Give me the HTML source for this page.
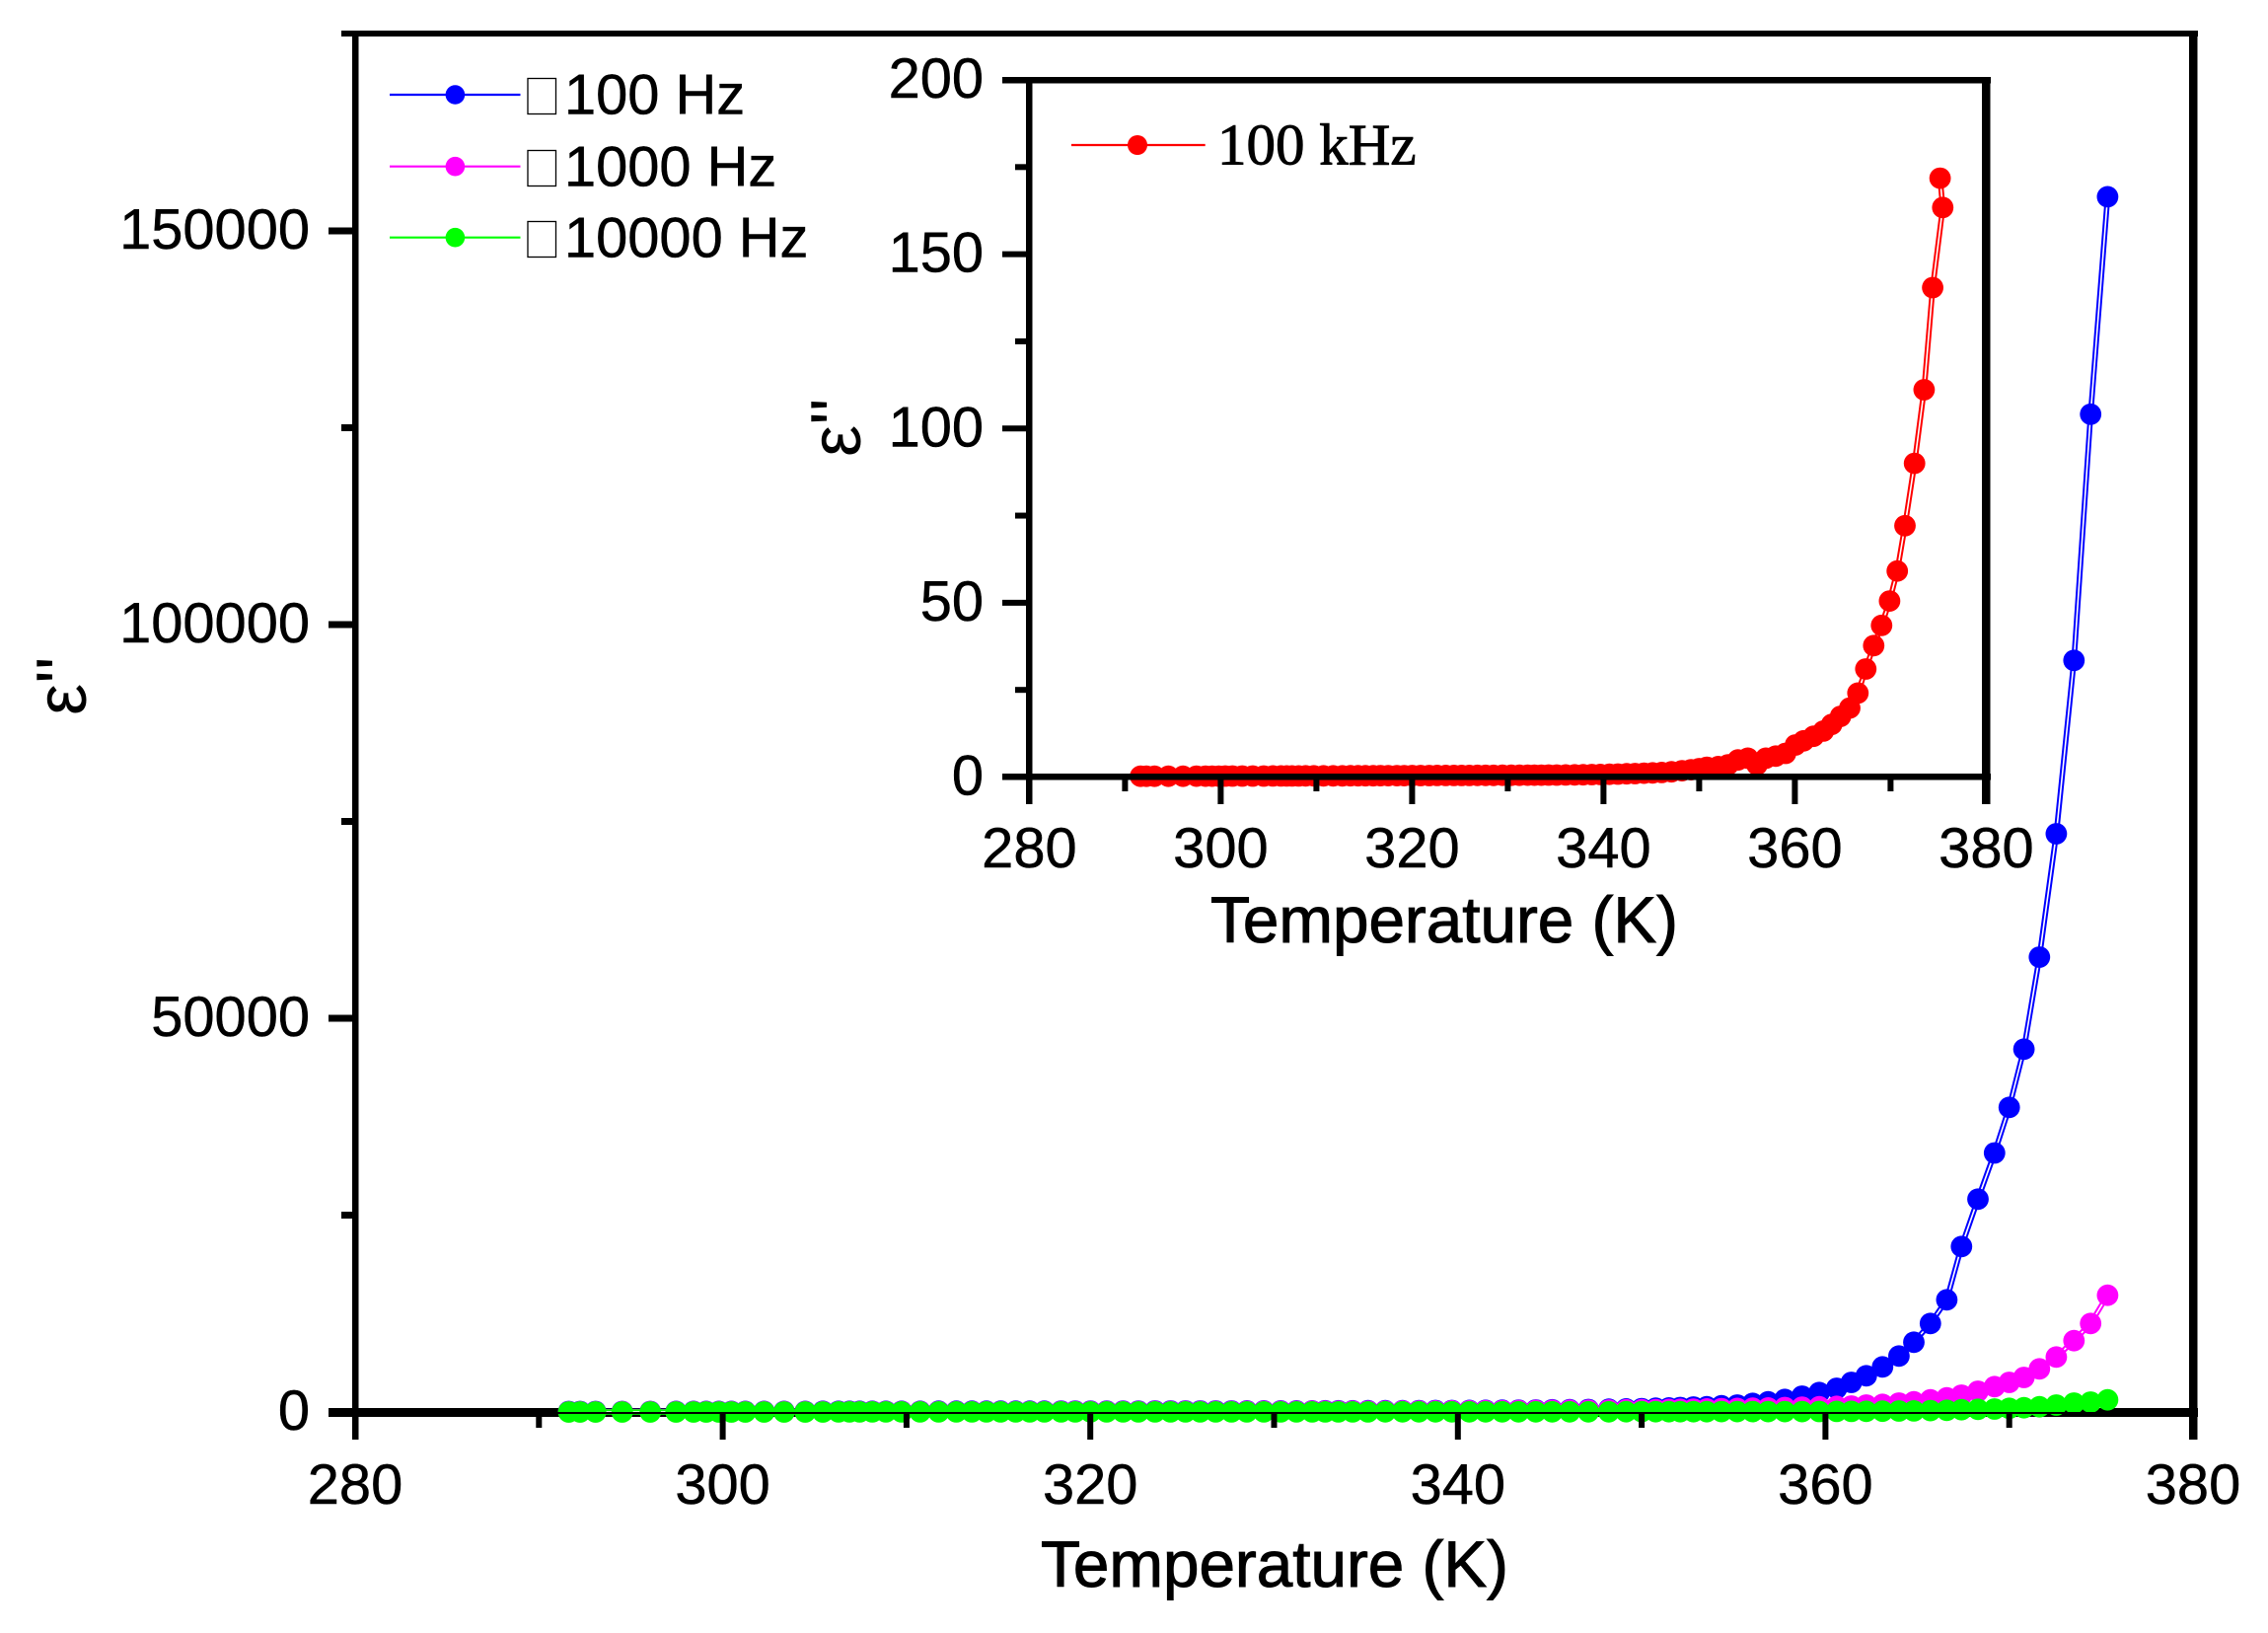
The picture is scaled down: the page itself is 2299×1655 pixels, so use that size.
<!DOCTYPE html>
<html lang="en">
<head>
<meta charset="utf-8">
<title>Dielectric loss vs temperature</title>
<style>
html,body{margin:0;padding:0;background:#fff;}
svg{display:block;}
text{font-family:"Liberation Sans",sans-serif;fill:#000;}
</style>
</head>
<body>
<svg id="chart" xmlns="http://www.w3.org/2000/svg" width="2299" height="1655" viewBox="0 0 2299 1655">
  <rect x="0" y="0" width="2299" height="1655" fill="#fff"/>
  <g id="main-under">
    <rect x="333" y="1427" width="1895" height="9" fill="#000"/>
    <rect x="346" y="31" width="1882" height="6" fill="#000"/>
    <rect x="357" y="31" width="6.5" height="1428" fill="#000"/>
    <rect x="2219" y="31" width="8.5" height="1428" fill="#000"/>
  </g>
  <g id="main-series"></g>
  <rect x="333" y="1431" width="1895" height="2" fill="#000"/>
  <g id="main-ticks"></g>
  <text x="1292" y="1608" font-size="65.6" text-anchor="middle" stroke="#000" stroke-width="1">Temperature (K)</text>
  <text transform="translate(87,725) rotate(-90)" font-size="72">ε''</text>

  <g>
    <line x1="395" y1="96" x2="527.5" y2="96" stroke="#0000ff" stroke-width="2.2"/>
    <circle cx="461.4" cy="96" r="9.8" fill="#0000ff"/>
    <rect x="535" y="79.5" width="28.5" height="36" fill="none" stroke="#000" stroke-width="1.3"/>
    <text x="572" y="115.7" font-size="57.8" stroke="#000" stroke-width="0.5">100 Hz</text>
    <line x1="395" y1="168.7" x2="527.5" y2="168.7" stroke="#ff00ff" stroke-width="2.2"/>
    <circle cx="461.4" cy="168.7" r="9.8" fill="#ff00ff"/>
    <rect x="535" y="152.5" width="28.5" height="36" fill="none" stroke="#000" stroke-width="1.3"/>
    <text x="572" y="188.3" font-size="57.8" stroke="#000" stroke-width="0.5">1000 Hz</text>
    <line x1="395" y1="240.7" x2="527.5" y2="240.7" stroke="#00ff00" stroke-width="2.2"/>
    <circle cx="461.4" cy="240.7" r="9.8" fill="#00ff00"/>
    <rect x="535" y="224.5" width="28.5" height="36" fill="none" stroke="#000" stroke-width="1.3"/>
    <text x="572" y="260.7" font-size="57.8" stroke="#000" stroke-width="0.5">10000 Hz</text>
  </g>

  <g id="inset-series"></g>
  <g id="inset-frame">
    <rect x="1016" y="784" width="1002" height="6.5" fill="#000"/>
    <rect x="1016" y="78" width="1002" height="6.5" fill="#000"/>
    <rect x="1040" y="78" width="6.5" height="737" fill="#000"/>
    <rect x="2009" y="78" width="8.5" height="737" fill="#000"/>
  </g>
  <g id="inset-ticks"></g>
  <text x="1464" y="955" font-size="65.6" text-anchor="middle" stroke="#000" stroke-width="1">Temperature (K)</text>
  <text transform="translate(872,463) rotate(-90)" font-size="72">ε''</text>
  <g>
    <line x1="1086" y1="147" x2="1221.7" y2="147" stroke="#ff0000" stroke-width="2.2"/>
    <circle cx="1153" cy="147" r="10" fill="#ff0000"/>
    <text x="1234" y="166.7" font-size="59" stroke="#000" stroke-width="0.9" style="font-family:'Liberation Serif',serif">100 kHz</text>
  </g>
</svg>
<script>
// Shared temperature readings (K)
const temperature = [
  291.62,292.24,293.08,294.53,296.06,297.46,298.41,299.10,299.79,300.47,
  301.23,302.25,303.34,304.49,305.45,306.30,306.90,307.45,308.14,308.88,
  309.73,310.74,311.75,312.71,313.56,314.35,315.12,315.94,316.71,317.50,
  318.41,319.18,320.01,320.89,321.78,322.62,323.52,324.37,325.18,325.98,
  326.82,327.68,328.52,329.44,330.36,331.22,332.07,332.78,333.50,334.27,
  335.11,336.05,336.99,337.88,338.78,339.67,340.62,341.51,342.41,343.30,
  344.24,345.13,346.08,347.10,348.21,349.15,350.00,350.76,351.48,352.10,
  352.82,353.54,354.34,355.20,356.04,356.88,357.79,358.73,359.66,360.61,
  361.41,362.22,363.11,364.00,364.81,365.71,366.60,367.40,368.30,369.20,
  370.00,370.80,371.64,372.56,373.52,374.43,375.35
];
const values100Hz = [
  60,62,65,66,68,70,72,72,74,75,
  76,78,80,80,82,84,85,86,88,90,
  90,92,94,95,97,98,100,102,104,105,
  107,110,112,114,116,118,120,122,124,126,
  128,130,133,136,138,140,143,146,150,154,
  158,162,168,175,182,190,198,208,220,235,
  250,270,290,315,345,385,430,470,520,570,
  627,664,789,877,1090,1291,1591,2005,2469,3008,
  3759,4599,5727,7105,8860,11241,14248,21015,27030,32895,
  38684,46078,57769,73434,95451,126717,154336
];
const values1000Hz = [
  30,30,31,32,33,34,35,35,36,37,
  38,38,39,40,41,42,42,43,44,45,
  46,47,48,49,50,51,52,54,55,56,
  58,60,62,63,65,67,69,71,73,75,
  78,80,83,86,89,92,95,99,103,108,
  113,118,124,130,137,145,153,162,172,183,
  195,210,225,240,255,272,290,305,320,340,
  360,390,420,450,480,520,560,610,664,714,
  752,877,965,1128,1291,1541,1792,2130,2632,3221,
  3759,4386,5476,6980,9060,11241,14825
];
const values10000Hz = [
  4,4,4,5,5,5,5,5,5,6,
  6,6,6,6,6,7,7,7,7,7,
  7,8,8,8,8,8,9,9,9,9,
  10,10,10,11,11,11,12,12,12,13,
  13,14,14,15,15,16,16,17,17,18,
  18,19,20,20,21,22,23,24,25,26,
  27,28,29,30,31,32,34,35,36,38,
  40,42,44,46,48,50,52,55,60,70,
  80,90,100,120,140,170,213,288,338,376,
  464,540,664,877,1128,1253,1541
];
// Inset (100 kHz)
const insetTemperature = [
  291.62,292.24,293.08,294.53,296.06,297.46,298.41,299.10,299.79,300.47,
  301.23,302.25,303.34,304.49,305.45,306.30,306.90,307.45,308.14,308.88,
  309.73,310.74,311.75,312.71,313.56,314.35,315.12,315.94,316.71,317.50,
  318.41,319.18,320.01,320.89,321.78,322.62,323.52,324.37,325.18,325.98,
  326.82,327.68,328.52,329.44,330.36,331.22,332.07,332.78,333.50,334.27,
  335.11,336.05,336.99,337.88,338.78,339.67,340.62,341.51,342.41,343.30,
  344.24,345.13,346.08,347.10,348.21,349.15,350.00,350.80,351.99,353.02,
  354.05,355.08,356.04,356.97,358.00,359.03,360.06,360.92,361.95,362.98,
  363.85,364.77,365.73,366.59,367.41,368.24,369.06,369.90,370.70,371.50,
  372.50,373.50,374.40,375.45,375.18
];
const values100kHz = [
  0.22,0.22,0.23,0.24,0.24,0.25,0.25,0.26,0.26,0.27,
  0.27,0.28,0.28,0.29,0.30,0.30,0.31,0.31,0.32,0.33,
  0.33,0.34,0.35,0.35,0.36,0.37,0.38,0.38,0.39,0.40,
  0.40,0.41,0.42,0.42,0.43,0.44,0.44,0.45,0.45,0.46,
  0.47,0.48,0.49,0.50,0.51,0.52,0.53,0.54,0.55,0.56,
  0.58,0.60,0.63,0.66,0.70,0.75,0.80,0.86,0.93,1.0,
  1.1,1.2,1.3,1.5,1.8,2.1,2.4,2.8,3.0,3.5,
  4.9,5.4,3.5,5.4,6.0,6.8,9.2,10.4,11.7,13.2,
  15.1,17.4,19.8,24.1,31.0,37.7,43.5,50.5,59.1,72.1,
  90,111.1,140.4,163.4,171.8
];
// Tick values and labels
const xMajorTicks = [280,300,320,340,360,380];
const xMinorTicks = [290,310,330,350,370];
const mainYMajorTicks = [0,50000,100000,150000];
const mainYMinorTicks = [25000,75000,125000];
const insetYMajorTicks = [0,50,100,150,200];
const insetYMinorTicks = [25,75,125,175];

const NS = 'http://www.w3.org/2000/svg';
function mainX(t){ return 360 + (t - 280) * (2223 - 360) / 100; }
function mainY(v){ return 1431 - v * (1431 - 34.5) / 175000; }
function insetX(t){ return 1043.4 + (t - 280) * (2013.4 - 1043.4) / 100; }
function insetY(v){ return 787.5 - v * (787.5 - 81) / 200; }

function rectEl(parent, x, y, w, h){
  const r = document.createElementNS(NS, 'rect');
  r.setAttribute('x', x); r.setAttribute('y', y);
  r.setAttribute('width', w); r.setAttribute('height', h);
  r.setAttribute('fill', '#000');
  parent.appendChild(r);
  return r;
}
function textEl(parent, x, y, str, anchor){
  const t = document.createElementNS(NS, 'text');
  t.setAttribute('x', x); t.setAttribute('y', y);
  t.setAttribute('font-size', '57.8');
  t.setAttribute('stroke', '#000');
  t.setAttribute('stroke-width', '0.5');
  t.setAttribute('text-anchor', anchor);
  t.textContent = str;
  parent.appendChild(t);
  return t;
}
function drawSeries(parent, xs, ys, xFn, yFn, color, key){
  const pts = xs.map(function(t, i){ return xFn(t).toFixed(1) + ',' + yFn(ys[i]).toFixed(1); }).join(' ');
  const outer = document.createElementNS(NS, 'polyline');
  
  
  outer.setAttribute('points', pts);
  outer.setAttribute('fill', 'none');
  outer.setAttribute('stroke', color);
  outer.setAttribute('stroke-width', '5.6');
  parent.appendChild(outer);
  const inner = document.createElementNS(NS, 'polyline');
  
  
  inner.setAttribute('points', pts);
  inner.setAttribute('fill', 'none');
  inner.setAttribute('stroke', '#fff');
  inner.setAttribute('stroke-width', '1.6');
  parent.appendChild(inner);
  xs.forEach(function(t, i){
    const c = document.createElementNS(NS, 'circle');
    
    
    c.setAttribute('cx', xFn(t).toFixed(1));
    c.setAttribute('cy', yFn(ys[i]).toFixed(1));
    c.setAttribute('r', '10.9');
    c.setAttribute('fill', color);
    parent.appendChild(c);
  });
}

const mainSeries = document.getElementById('main-series');
drawSeries(mainSeries, temperature, values100Hz, mainX, mainY, '#0000ff', 'series-100hz');
drawSeries(mainSeries, temperature, values1000Hz, mainX, mainY, '#ff00ff', 'series-1000hz');
drawSeries(mainSeries, temperature, values10000Hz, mainX, mainY, '#00ff00', 'series-10000hz');
const insetSeries = document.getElementById('inset-series');
drawSeries(insetSeries, insetTemperature, values100kHz, insetX, insetY, '#ff0000', 'series-100khz');

const mainTicks = document.getElementById('main-ticks');
const insetTicks = document.getElementById('inset-ticks');

xMajorTicks.forEach(function(t){
  const a = rectEl(mainTicks, mainX(t) - 3, 1431, 6, 28);
  
  
  const b = textEl(mainTicks, mainX(t), 1524, String(t), 'middle');
  
  
  const c = rectEl(insetTicks, insetX(t) - 3, 787, 6, 28);
  
  
  const d = textEl(insetTicks, insetX(t), 879, String(t), 'middle');
  
  
});
xMinorTicks.forEach(function(t){
  const a = rectEl(mainTicks, mainX(t) - 3, 1431, 6, 16);
  
  
  const c = rectEl(insetTicks, insetX(t) - 3, 787, 6, 15);
  
  
});
mainYMajorTicks.forEach(function(v){
  const a = rectEl(mainTicks, 333, mainY(v) - 3.5, 27, 7);
  
  
  const b = textEl(mainTicks, 314, mainY(v) + 18, String(v), 'end');
  
  
});
mainYMinorTicks.forEach(function(v){
  const a = rectEl(mainTicks, 346, mainY(v) - 3.5, 14, 7);
  
  
});
insetYMajorTicks.forEach(function(v){
  const a = rectEl(insetTicks, 1016, insetY(v) - 3, 27, 6);
  
  
  const b = textEl(insetTicks, 997, insetY(v) + 18, String(v), 'end');
  
  
});
insetYMinorTicks.forEach(function(v){
  const a = rectEl(insetTicks, 1029, insetY(v) - 3, 14, 6);
  
  
});
</script>
</body>
</html>
